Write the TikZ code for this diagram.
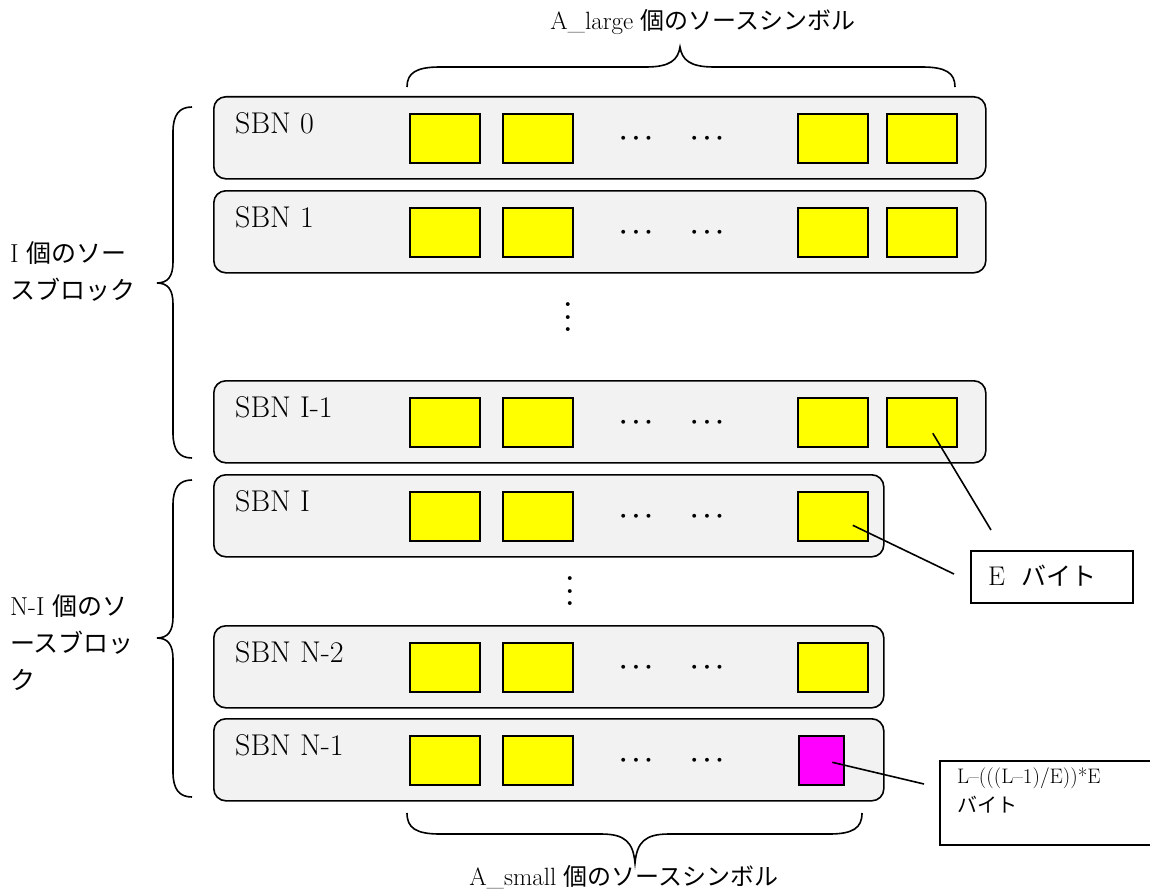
\documentclass[tikz,border=0pt]{standalone}
\usepackage{fontspec}
\newfontfamily\jp{Noto Sans CJK JP}
\usetikzlibrary{calc}
\definecolor{rowfill}{HTML}{F2F2F2}
\definecolor{symfill}{HTML}{FFFF00}
\definecolor{magfill}{HTML}{FF00FF}
\begin{document}
\begin{tikzpicture}[x=1pt,y=-1pt,
  rowbox/.style={draw, line width=1.6pt, fill=rowfill, rounded corners=12pt, anchor=north west, minimum height=82pt, inner sep=0pt},
  symbox/.style={draw, line width=1.6pt, fill=symfill, anchor=north west, minimum width=70pt, minimum height=49pt, inner sep=0pt},
  magbox/.style={symbox, fill=magfill, minimum width=45pt},
  sbn/.style={anchor=base west, font=\fontsize{30}{36}\selectfont, inner sep=0pt},
  dotsnode/.style={font=\fontsize{29}{34}\selectfont\boldmath, inner sep=0pt, anchor=base},
  bracepath/.style={line width=1.6pt},
  lead/.style={line width=1.6pt},
  lbl/.style={font=\fontsize{26}{37}\selectfont, inner sep=0pt, align=left},
  jlbl/.style={font=\fontsize{25}{37}\selectfont\jp},
  note/.style={draw, line width=1.6pt, inner sep=0pt, anchor=north west}
]
\useasboundingbox (0,0) rectangle (1150,888);

% rows
\foreach \n/\t/\lab/\w in {a/96/{SBN 0}/772, b/190/{SBN 1}/772, c/380/{SBN I-1}/772, d/474/{SBN I}/670, e/625/{SBN N-2}/670, f/718/{SBN N-1}/670} {
  \node[rowbox, minimum width=\w pt] (row\n) at (213,\t) {};
  \node[sbn] (lab\n) at (235,\t+37) {\lab};
  \node[symbox] (s\n1) at (409,\t+17) {};
  \node[symbox] (s\n2) at (502,\t+17) {};
  \node[dotsnode] (d\n1) at (636,\t+48) {$\cdots$};
  \node[dotsnode] (d\n2) at (707,\t+48) {$\cdots$};
}
\foreach \n/\t in {a/96, b/190, c/380} {
  \node[symbox] (s\n3) at (797,\t+17) {};
  \node[symbox] (s\n4) at (886,\t+17) {};
}
\foreach \n/\t in {d/474, e/625} {
  \node[symbox] (s\n3) at (797,\t+17) {};
}
\node[magbox] (sf3) at (798,735) {};

% vertical dots
\node[dotsnode, rotate=90] (vd1) at (574,317) {$\cdots$};
\node[dotsnode, rotate=90] (vd2) at (576,591) {$\cdots$};

% top brace
\draw[bracepath] (407,87) .. controls (407,73) and (416,67) .. (440,67) -- (646,67)
  .. controls (670,67) and (678,60) .. (680,47)
  .. controls (682,60) and (690,67) .. (714,67) -- (922,67)
  .. controls (946,67) and (955,73) .. (955,87);
\node[lbl, font=\fontsize{25}{30}\selectfont] (toplab) at (703,22) {A\_large {\jp\fontsize{24}{30}\selectfont 個のソースシンボル}};

% bottom brace
\draw[bracepath] (407,813) .. controls (407,828) and (416,834) .. (440,834) -- (601,834)
  .. controls (625,834) and (633,842) .. (635,863)
  .. controls (637,842) and (645,834) .. (669,834) -- (829,834)
  .. controls (853,834) and (862,828) .. (862,813);
\node[lbl, font=\fontsize{25}{30}\selectfont] (botlab) at (624,877) {A\_small {\jp\fontsize{24}{30}\selectfont 個のソースシンボル}};

% left braces
\draw[bracepath] (192,107) .. controls (179,107) and (173,115) .. (173,132) -- (173,262)
  .. controls (173,276) and (168,283) .. (157,283)
  .. controls (168,283) and (173,290) .. (173,304) -- (173,433)
  .. controls (173,450) and (179,458) .. (192,458);
\node[lbl, anchor=west] (leftlab1) at (10,271) {I {\jp\fontsize{25}{37}\selectfont 個のソー}\\{\jp\fontsize{25}{37}\selectfont スブロック}};

\draw[bracepath] (192,480) .. controls (179,480) and (173,488) .. (173,505) -- (173,617)
  .. controls (173,631) and (168,638) .. (157,638)
  .. controls (168,638) and (173,645) .. (173,659) -- (173,772)
  .. controls (173,789) and (179,797) .. (192,797);
\node[lbl, anchor=west] (leftlab2) at (10,643) {N-I {\jp\fontsize{25}{37}\selectfont 個のソ}\\{\jp\fontsize{25}{37}\selectfont ースブロッ}\\{\jp\fontsize{25}{37}\selectfont ク}};

% E byte note
\node[note, minimum width=162pt, minimum height=52pt] (ebox) at (970,550) {};
\node[anchor=west, font=\fontsize{27}{32}\selectfont, inner sep=0pt] (etext) at (988,576) {E\hspace{16pt}{\jp\fontsize{25}{30}\selectfont バイト}};
\coordinate (e1) at (991,530);
\coordinate (e2) at (954,574);
\draw[lead] ([shift={(11,11)}]sc4.center) -- (e1);
\draw[lead] ([shift={(20,9)}]sd3.center) -- (e2);

% formula note
\node[note, minimum width=211pt, minimum height=84pt] (fbox) at (939,760) {};
\node[anchor=north west, font=\fontsize{21}{29}\selectfont, inner sep=0pt, align=left] (ftext) at (957,768) {L–(((L–1)/E))*E\\{\jp\fontsize{20}{29}\selectfont バイト}};
\coordinate (f1) at (924,784);
\draw[lead] ([shift={(11,2)}]sf3.center) -- (f1);
\end{tikzpicture}
\end{document}
